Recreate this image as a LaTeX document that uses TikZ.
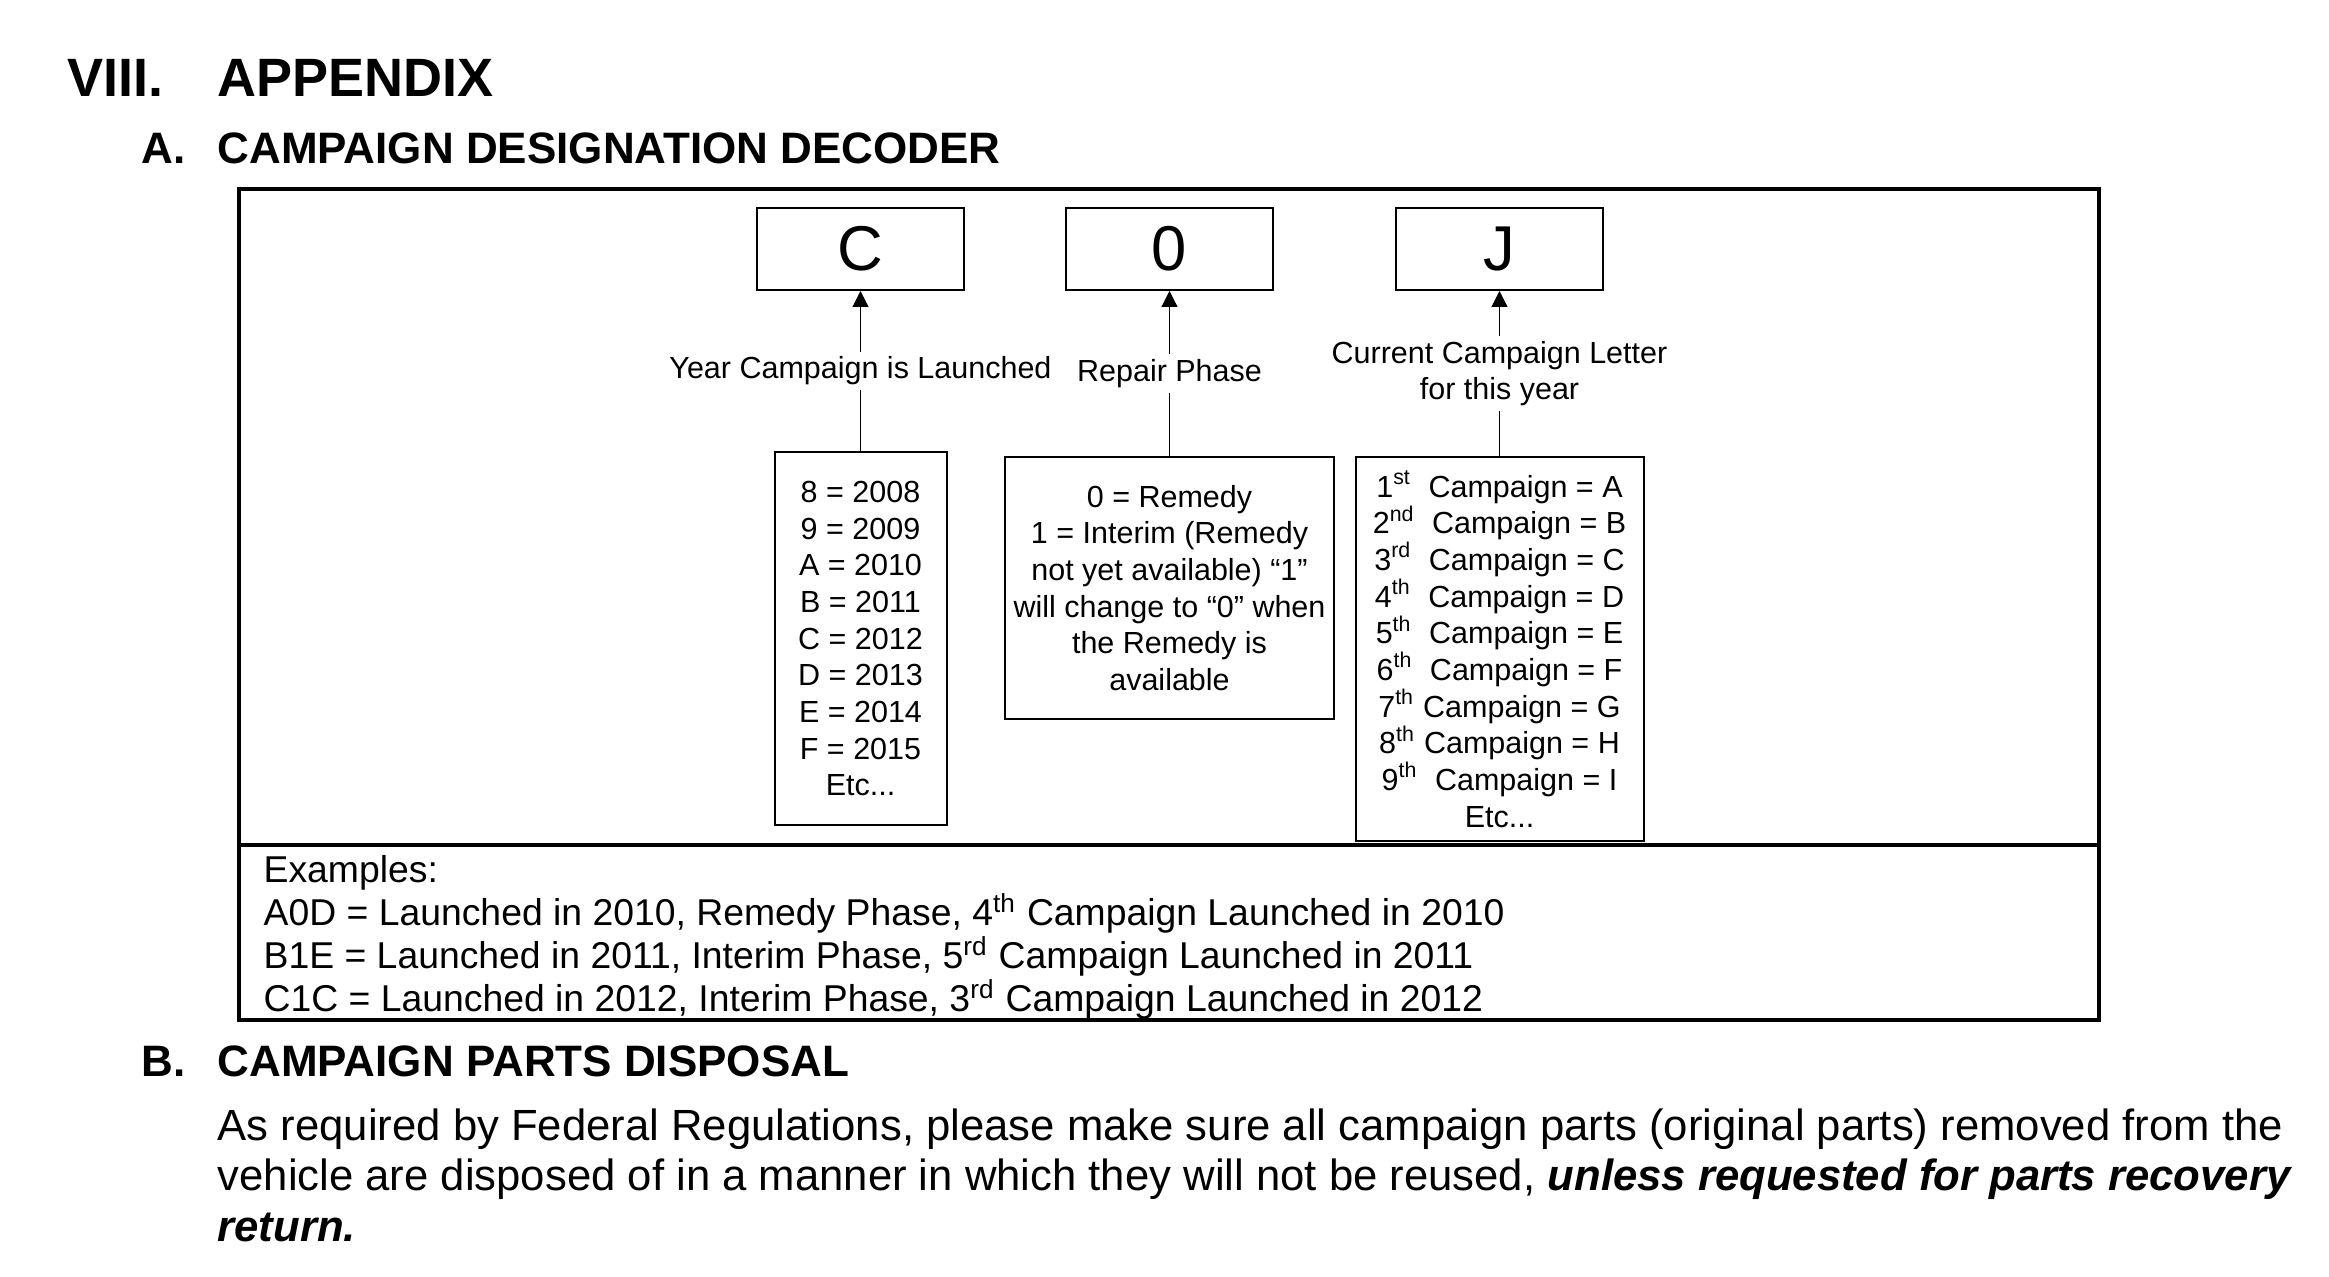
\documentclass[tikz,border=0pt]{standalone}
\usepackage{fontspec}
\setmainfont{Liberation Sans}
\usetikzlibrary{arrows.meta,positioning}
\newcommand{\ordn}[2]{#1\textsuperscript{#2}}

\begin{document}
\begin{tikzpicture}[x=0.3pt, y=-0.3pt, every node/.style={font=\fontsize{9.15}{11}\selectfont},
  letterbox/.style={draw, line width=0.6pt, minimum width=62.1pt, minimum height=24.6pt, inner sep=0pt, font=\fontsize{19}{22}\selectfont},
  listbox/.style={draw, line width=0.6pt, align=center, inner sep=0pt},
  lbl/.style={fill=white, align=center, inner sep=1.5pt},
  arr/.style={-{Triangle[length=4.8pt, width=4.8pt]}, line width=0.35pt},
  head/.style={anchor=base west, inner sep=0pt, font=\fontsize{13.2}{15}\selectfont\bfseries},
  bighead/.style={anchor=base west, inner sep=0pt, font=\fontsize{16.2}{18}\selectfont\bfseries}]
\useasboundingbox (0,0) rectangle (2329,1277);
% headings
\node[bighead] (sec) at (67,97) {VIII.};
\node[bighead] (app) at (217,97) {APPENDIX};
\node[head] (suba) at (141,164) {A.};
\node[head] (dec) at (217,164) {CAMPAIGN DESIGNATION DECODER};
% frame
\draw[line width=1pt] (239,189) rectangle (2099,1020);
\draw[line width=1pt] (239,845) -- (2099,845);
% code letters
\node[letterbox] (year) at (860.5,249) {C};
\node[letterbox] (phase) at (1169.5,249) {0};
\node[letterbox] (letter) at (1499.5,249) {J};
% decoder lists
\node[listbox, minimum width=51.6pt, minimum height=112pt, below=48pt of year] (years)
  {8 = 2008\\9 = 2009\\A = 2010\\B = 2011\\C = 2012\\D = 2013\\E = 2014\\F = 2015\\Etc...};
\node[listbox, minimum width=98.7pt, minimum height=78.6pt, below=49.5pt of phase] (remedy)
  {0 = Remedy\\1 = Interim (Remedy\\not yet available) “1”\\will change to “0” when\\the Remedy is\\available};
\node[listbox, minimum width=86.4pt, minimum height=115.2pt, below=49.5pt of letter] (camps)
  {\ordn{1}{st}\ \ Campaign = A\\\ordn{2}{nd}\ \ Campaign = B\\\ordn{3}{rd}\ \ Campaign = C\\
   \ordn{4}{th}\ \ Campaign = D\\\ordn{5}{th}\ \ Campaign = E\\\ordn{6}{th}\ \ Campaign = F\\
   \ordn{7}{th} Campaign = G\\\ordn{8}{th} Campaign = H\\\ordn{9}{th}\ \ Campaign = I\\Etc...};
\draw[arr] (years) -- node[lbl] {Year Campaign is Launched} (year);
\draw[arr] (remedy) -- node[lbl] {Repair Phase} (phase);
\draw[arr] (camps) -- node[lbl] {Current Campaign Letter\\for this year} (letter);
% examples
\node[anchor=north west, align=left, inner sep=0pt, font=\fontsize{11.2}{12.9}\selectfont] (ex) at (263,855)
  {Examples:\\
   A0D = Launched in 2010, Remedy Phase, \ordn{4}{th} Campaign Launched in 2010\\
   B1E = Launched in 2011, Interim Phase, \ordn{5}{rd} Campaign Launched in 2011\\
   C1C = Launched in 2012, Interim Phase, \ordn{3}{rd} Campaign Launched in 2012};
% section B
\node[head] (subb) at (141,1077) {B.};
\node[head] (disp) at (217,1077) {CAMPAIGN PARTS DISPOSAL};
\node[anchor=north west, align=left, inner sep=0pt, font=\fontsize{13.1}{15.2}\selectfont] (body) at (217,1108)
  {As required by Federal Regulations, please make sure all campaign parts (original parts) removed from the\\
   vehicle are disposed of in a manner in which they will not be reused, \textbf{\textit{unless requested for parts recovery}}\\
   \textbf{\textit{return.}}};
\end{tikzpicture}
\end{document}
